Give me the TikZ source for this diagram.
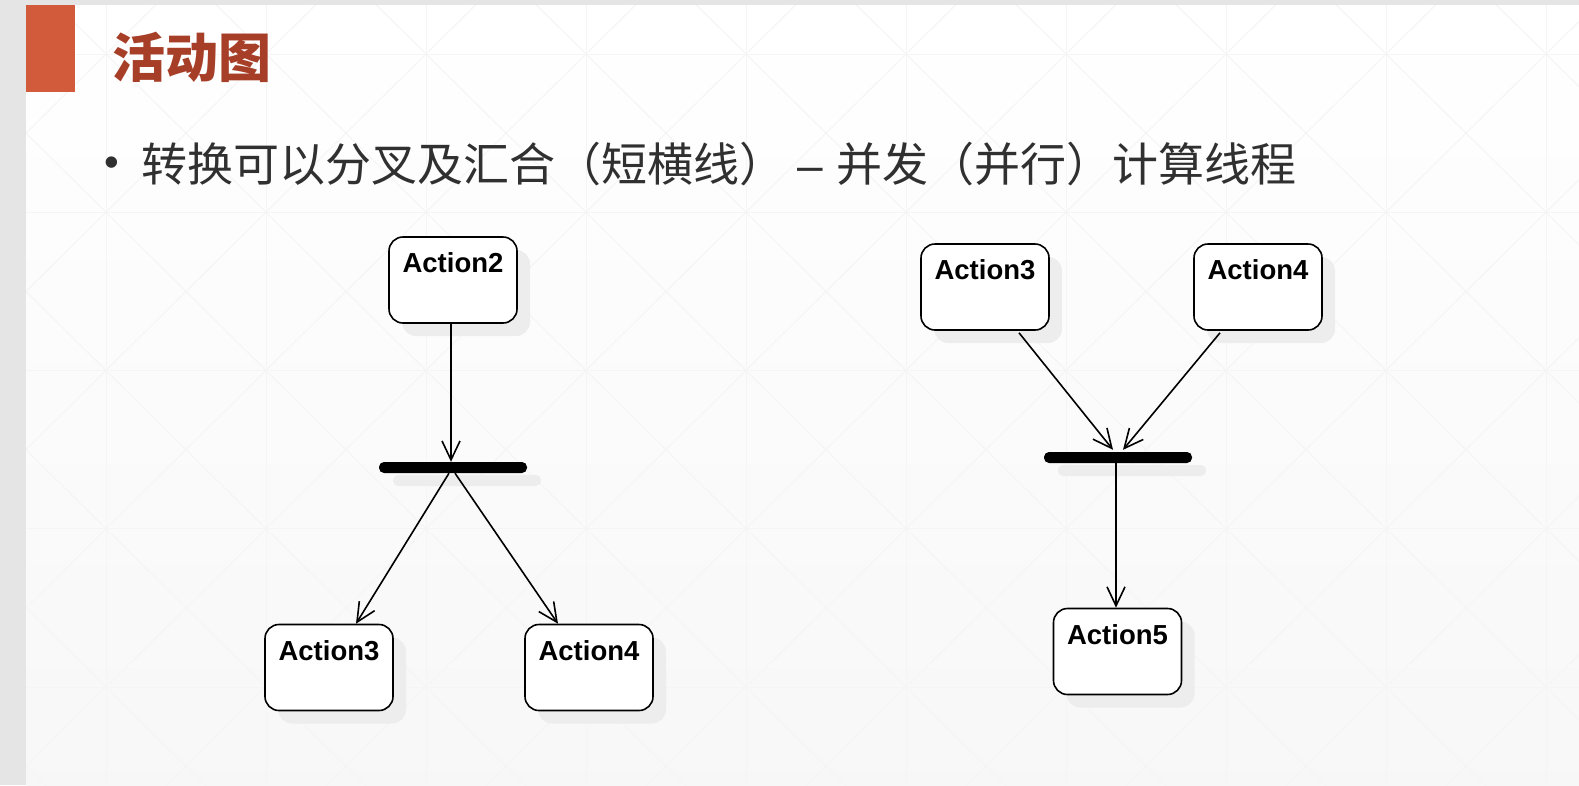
\documentclass[tikz,border=0pt]{standalone}
\usepackage{fontspec}
\setmainfont{Liberation Sans}
\newfontfamily\cjk{Noto Sans CJK SC}
\usetikzlibrary{arrows.meta,shadows,calc}
\definecolor{framegray}{RGB}{229,229,229}
\definecolor{accent}{RGB}{210,91,60}
\definecolor{titlered}{RGB}{166,62,40}
\definecolor{textgray}{RGB}{48,48,48}
\definecolor{gridgray}{RGB}{245,245,245}
\definecolor{shadowgray}{RGB}{237,237,237}
\begin{document}
\begin{tikzpicture}[x=1pt,y=-1pt,
  actbox/.style={draw=black, line width=1.6pt, rounded corners=14pt,
    minimum width=128pt, minimum height=86pt, inner sep=0pt, fill=white,
    drop shadow={shadow xshift=13pt, shadow yshift=-13pt, fill=shadowgray, opacity=1}},
  acttext/.style={anchor=base, inner sep=0pt,
    font=\fontsize{27.5}{30}\selectfont\bfseries},
  syncbar/.style={fill=black, rounded corners=5pt, minimum width=148pt,
    minimum height=11pt, inner sep=0pt,
    drop shadow={shadow xshift=14pt, shadow yshift=-13pt, fill=shadowgray, opacity=1}},
  flow/.style={line width=1.6pt,
    -{Straight Barb[length=19pt,width=18pt,line width=1.6pt]}}
]
\useasboundingbox (0,0) rectangle (1579,785);
% frame
\fill[framegray] (0,0) rectangle (1579,785);
\begin{scope}
  \clip (26,5) rectangle (1579,785);
  \shade[top color=white, bottom color=black!3] (26,5) rectangle (1579,785);
  \foreach \i in {-1,...,9} {
    \pgfmathsetmacro\xa{106+160*\i}
    \draw[gridgray, line width=1pt] (\xa,5) -- (\xa,785);
    \foreach \j in {-1,...,4} {
      \pgfmathsetmacro\ya{54+158.25*\j}
      \draw[gridgray, line width=1pt] (\xa,\ya) -- (\xa+160,\ya+158.25)
        (\xa+160,\ya) -- (\xa,\ya+158.25);
    }
  }
  \foreach \j in {0,...,4} {
    \pgfmathsetmacro\ya{54+158.25*\j}
    \draw[gridgray, line width=1pt] (26,\ya) -- (1579,\ya);
  }
\end{scope}
% title bar
\fill[accent] (26,5) rectangle (75,92);
\node[anchor=base west, inner sep=0pt, text=titlered,
  font=\cjk\bfseries\fontsize{53}{60}\selectfont] (title) at (112,77) {活动图};
% bullet line
\node[anchor=base, inner sep=0pt, text=textgray,
  font=\fontsize{42}{46}\selectfont] (bul) at (112,176) {•};
\node[anchor=base west, inner sep=0pt, text=textgray,
  font=\cjk\fontsize{46}{52}\selectfont] (line) at (141,181)
  {转换可以分叉及汇合（短横线）{\rmfamily\ – }并发（并行）计算线程};
% left diagram
\node[actbox] (a2) at (453,280) {};
\node[acttext] (a2t) at ($(a2.north)+(0,36.5)$) {Action2};
\node[syncbar] (b1) at (453,467.5) {};
\node[actbox] (l3) at (329,667.5) {};
\node[acttext] (l3t) at ($(l3.north)+(0,36.5)$) {Action3};
\node[actbox] (l4) at (589,667.5) {};
\node[acttext] (l4t) at ($(l4.north)+(0,36.5)$) {Action4};
\draw[flow] ($(a2.south)+(-2,0)$) -- ($(b1.north)+(-2,0)$);
\draw[flow] ($(b1.south)+(-4,0)$) -- ($(l3.north)+(27,0)$);
\draw[flow] ($(b1.south)+(2,0)$) -- ($(l4.north)+(-31,0)$);
% right diagram
\node[actbox] (r3) at (985,287) {};
\node[acttext] (r3t) at ($(r3.north)+(0,36.5)$) {Action3};
\node[actbox] (r4) at (1258,287) {};
\node[acttext] (r4t) at ($(r4.north)+(0,36.5)$) {Action4};
\node[syncbar] (b2) at (1118,457.5) {};
\node[actbox] (a5) at (1117.5,651.5) {};
\node[acttext] (a5t) at ($(a5.north)+(0,36.5)$) {Action5};
\draw[flow] ($(r3.south)+(34,2)$) -- ($(b2.north)+(-5,-2)$);
\draw[flow] ($(r4.south)+(-38,2)$) -- ($(b2.north)+(5,-2)$);
\draw[flow] ($(b2.south)+(-2,0)$) -- ($(a5.north)+(-1.5,0)$);
\end{tikzpicture}
\end{document}
